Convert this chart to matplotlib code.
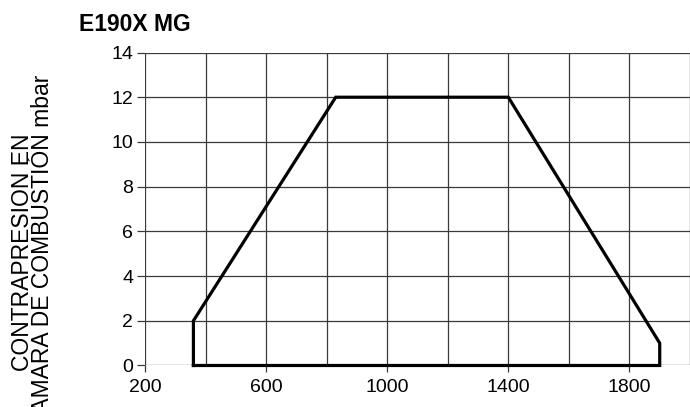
import matplotlib.pyplot as plt
from matplotlib.ticker import MultipleLocator

# Curva de trabajo del quemador (caudal vs contrapresión)
caudal = [360, 360, 830, 1400, 1900, 1900, 360]
contrapresion = [0, 2, 12, 12, 1, 0, 0]

marcas_x = [200, 600, 1000, 1400, 1800]
marcas_y = [0, 2, 4, 6, 8, 10, 12, 14]

titulo = 'E190X MG'
etiqueta_y = 'CONTRAPRESION EN\nCAMARA DE COMBUSTIÓN mbar'

plt.rcParams['font.family'] = ['Liberation Sans', 'DejaVu Sans']

fig = plt.figure(figsize=(6.9, 4.07), dpi=100)
ax = fig.add_axes([0.2101, 0.102, 0.7899, 0.769])

ax.plot(caudal, contrapresion, color='black', linewidth=2.3,
        solid_joinstyle='miter', clip_on=False, zorder=3)

ax.set_xlim(200, 2000)
ax.set_ylim(0, 14)

# Marcas principales con etiqueta, secundarias solo para la rejilla
ax.set_xticks(marcas_x)
ax.xaxis.set_minor_locator(MultipleLocator(200))
ax.set_yticks(marcas_y)

ax.grid(True, which='both', color='#3a3a3a', linewidth=0.9)
ax.set_axisbelow(True)
for lado in ax.spines.values():
    lado.set_visible(False)

ax.tick_params(axis='x', which='major', length=5, width=0.9, color='#3a3a3a',
               labelsize=14, pad=4.5)
ax.tick_params(axis='x', which='minor', length=0)
ax.tick_params(axis='y', length=5.5, width=0.9, color='#3a3a3a',
               labelsize=14, pad=3)

fig.text(0.1145, 0.9246, titulo, fontsize=16.5, fontweight='bold',
         ha='left', va='baseline')
fig.text(0.047, 0.381, etiqueta_y, fontsize=16.5, rotation=90,
         ha='center', va='center', multialignment='center', linespacing=0.8)

plt.savefig('out.png', dpi=100)
